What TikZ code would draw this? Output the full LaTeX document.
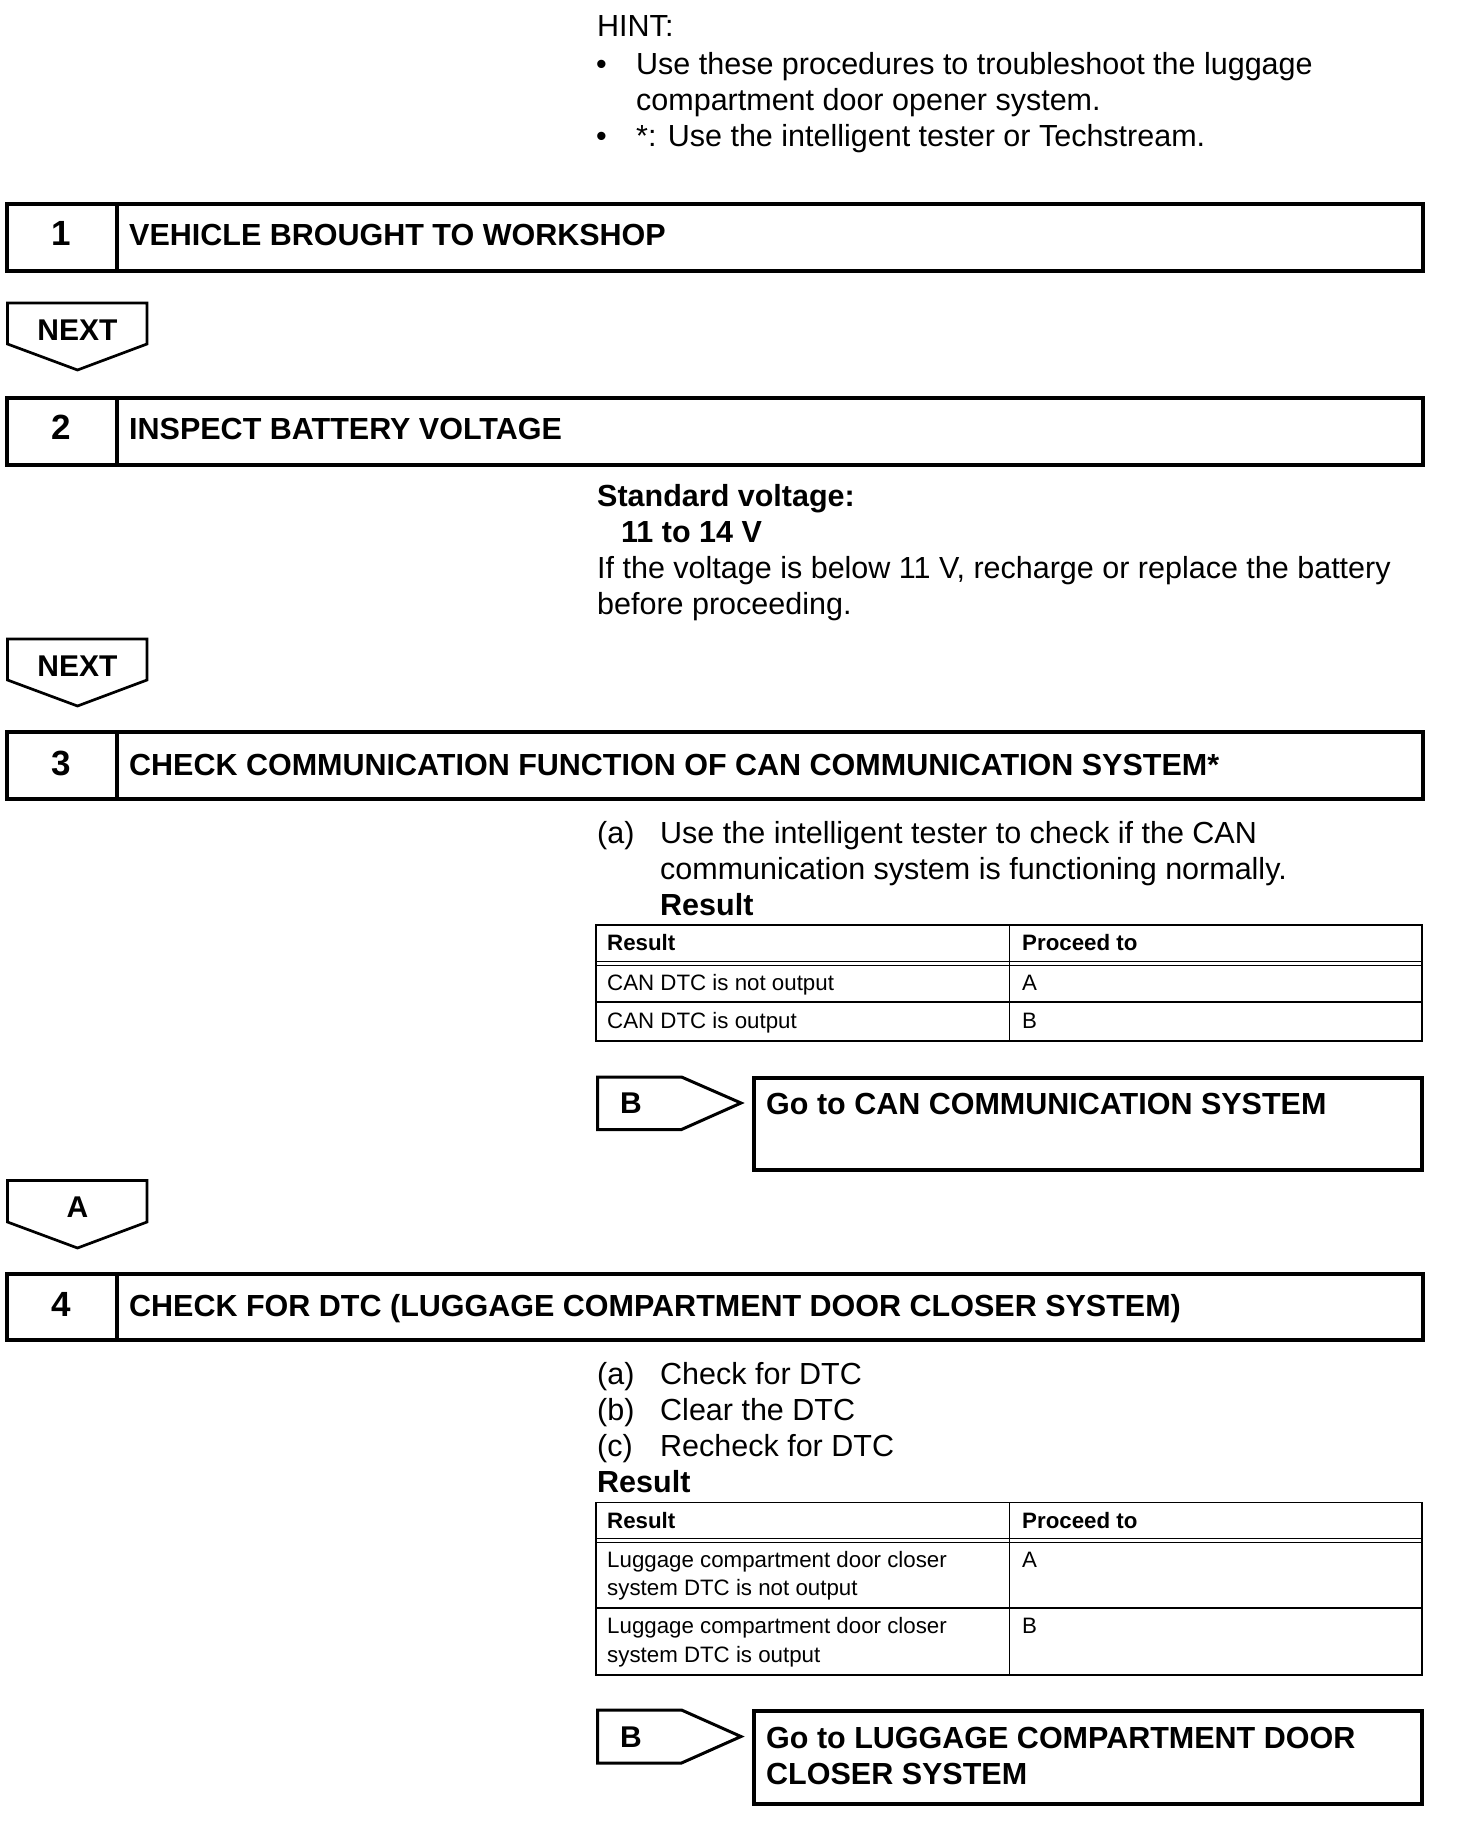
\documentclass[tikz,border=0pt]{standalone}
\usepackage{fontspec}
\setmainfont{Liberation Sans}
\begin{document}
\begin{tikzpicture}[x=1pt,y=-1pt,
  body/.style={anchor=base west, inner sep=0pt, font=\fontsize{30.5}{36}\selectfont},
  bodyb/.style={anchor=base west, inner sep=0pt, font=\fontsize{30.5}{36}\selectfont\bfseries},
  ctrb/.style={anchor=base, inner sep=0pt, font=\fontsize{30}{36}\selectfont\bfseries},
  numb/.style={anchor=base, inner sep=0pt, font=\fontsize{35}{40}\selectfont\bfseries},
  tab/.style={anchor=base west, inner sep=0pt, font=\fontsize{22.3}{28}\selectfont},
  tabb/.style={anchor=base west, inner sep=0pt, font=\fontsize{22.3}{28}\selectfont\bfseries},
  stepframe/.style={line width=4pt},
  goframe/.style={line width=4pt},
  nextframe/.style={line width=2.7pt, line join=miter},
  bframe/.style={line width=3pt, line join=miter},
  tabline/.style={line width=1.5pt},
  tabthin/.style={line width=1.2pt}
]
\useasboundingbox[fill=white] (0,0) rectangle (1456,1828);

% HINT
\node[body] (hint) at (597,37) {HINT:};
\node[body] (bul1) at (596,74.5) {•};
\node[body] (h1) at (636,74.5) {Use these procedures to troubleshoot the luggage};
\node[body] (h2) at (636,110.5) {compartment door opener system.};
\node[body] (bul2) at (596,146.5) {•};
\node[body] (h3) at (636,146.5) {*: Use the intelligent tester or Techstream.};

% Step 1
\draw[stepframe] (7,204) rectangle (1423,271);
\draw[stepframe] (117,204) -- (117,271);
\node[numb] (n1) at (61,245.5) {1};
\node[bodyb] (t1) at (129,245.5) {VEHICLE BROUGHT TO WORKSHOP};

% NEXT 1
\draw[nextframe] (7.5,303) -- (147,303) -- (147,344) -- (77.5,370) -- (7.5,344) -- cycle;
\node[ctrb] (next1) at (77.5,340) {NEXT};

% Step 2
\draw[stepframe] (7,398) rectangle (1423,465);
\draw[stepframe] (117,398) -- (117,465);
\node[numb] (n2) at (61,439.5) {2};
\node[bodyb] (t2) at (129,439.5) {INSPECT BATTERY VOLTAGE};

\node[bodyb] (sv) at (597,506.5) {Standard voltage:};
\node[bodyb] (svv) at (621,542.5) {11 to 14 V};
\node[body] (sv1) at (597,578.5) {If the voltage is below 11 V, recharge or replace the battery};
\node[body] (sv2) at (597,614.5) {before proceeding.};

% NEXT 2
\draw[nextframe] (7.5,639) -- (147,639) -- (147,680) -- (77.5,706) -- (7.5,680) -- cycle;
\node[ctrb] (next2) at (77.5,676) {NEXT};

% Step 3
\draw[stepframe] (7,732) rectangle (1423,799);
\draw[stepframe] (117,732) -- (117,799);
\node[numb] (n3) at (61,775) {3};
\node[bodyb] (t3) at (129,775) {CHECK COMMUNICATION FUNCTION OF CAN COMMUNICATION SYSTEM*};

\node[body] (a3) at (597,843) {(a)};
\node[body] (a3t1) at (660,843) {Use the intelligent tester to check if the CAN};
\node[body] (a3t2) at (660,879) {communication system is functioning normally.};
\node[bodyb] (r3) at (660,915) {Result};

% Table 1
\draw[tabline] (596,925) rectangle (1422,1041);
\draw[tabthin] (596,961.5) -- (1422,961.5);
\draw[tabthin] (596,965.5) -- (1422,965.5);
\draw[tabline] (596,1002) -- (1422,1002);
\draw[tabline] (1009.5,925) -- (1009.5,1041);
\node[tabb] (th1a) at (607,950) {Result};
\node[tabb] (th1b) at (1022,950) {Proceed to};
\node[tab] (r1a) at (607,990) {CAN DTC is not output};
\node[tab] (r1b) at (1022,990) {A};
\node[tab] (r2a) at (607,1028.5) {CAN DTC is output};
\node[tab] (r2b) at (1022,1028.5) {B};

% B arrow 1 and Go box 1
\draw[bframe] (597.5,1077) -- (681.5,1077) -- (741,1103) -- (681.5,1129.5) -- (597.5,1129.5) -- cycle;
\node[ctrb] (bb1) at (631,1113.5) {B};
\draw[goframe] (754,1078) rectangle (1422,1170);
\node[bodyb] (go1) at (766,1114) {Go to CAN COMMUNICATION SYSTEM};

% A arrow
\draw[nextframe] (7.5,1180.5) -- (147,1180.5) -- (147,1222) -- (77.5,1248) -- (7.5,1222) -- cycle;
\node[ctrb] (aa) at (77.5,1217) {A};

% Step 4
\draw[stepframe] (7,1274) rectangle (1423,1340);
\draw[stepframe] (117,1274) -- (117,1340);
\node[numb] (n4) at (61,1316) {4};
\node[bodyb] (t4) at (129,1316) {CHECK FOR DTC (LUGGAGE COMPARTMENT DOOR CLOSER SYSTEM)};

\node[body] (a4) at (597,1384) {(a)};
\node[body] (a4t) at (660,1384) {Check for DTC};
\node[body] (b4) at (597,1420) {(b)};
\node[body] (b4t) at (660,1420) {Clear the DTC};
\node[body] (c4) at (597,1456) {(c)};
\node[body] (c4t) at (660,1456) {Recheck for DTC};
\node[bodyb] (r4) at (597,1492) {Result};

% Table 2
\draw[tabline] (596,1502.5) rectangle (1422,1675);
\draw[tabthin] (596,1538.5) -- (1422,1538.5);
\draw[tabthin] (596,1542.5) -- (1422,1542.5);
\draw[tabline] (596,1608) -- (1422,1608);
\draw[tabline] (1009.5,1502.5) -- (1009.5,1675);
\node[tabb] (th2a) at (607,1528) {Result};
\node[tabb] (th2b) at (1022,1528) {Proceed to};
\node[tab] (s1a) at (607,1567) {Luggage compartment door closer};
\node[tab] (s1b) at (607,1595.5) {system DTC is not output};
\node[tab] (s1c) at (1022,1567) {A};
\node[tab] (s2a) at (607,1633.5) {Luggage compartment door closer};
\node[tab] (s2b) at (607,1662) {system DTC is output};
\node[tab] (s2c) at (1022,1633.5) {B};

% B arrow 2 and Go box 2
\draw[bframe] (597.5,1710) -- (681.5,1710) -- (741,1736.5) -- (681.5,1763) -- (597.5,1763) -- cycle;
\node[ctrb] (bb2) at (631,1747) {B};
\draw[goframe] (754,1711) rectangle (1422,1804);
\node[bodyb] (go2a) at (766,1748) {Go to LUGGAGE COMPARTMENT DOOR};
\node[bodyb] (go2b) at (766,1784) {CLOSER SYSTEM};
\end{tikzpicture}
\end{document}
